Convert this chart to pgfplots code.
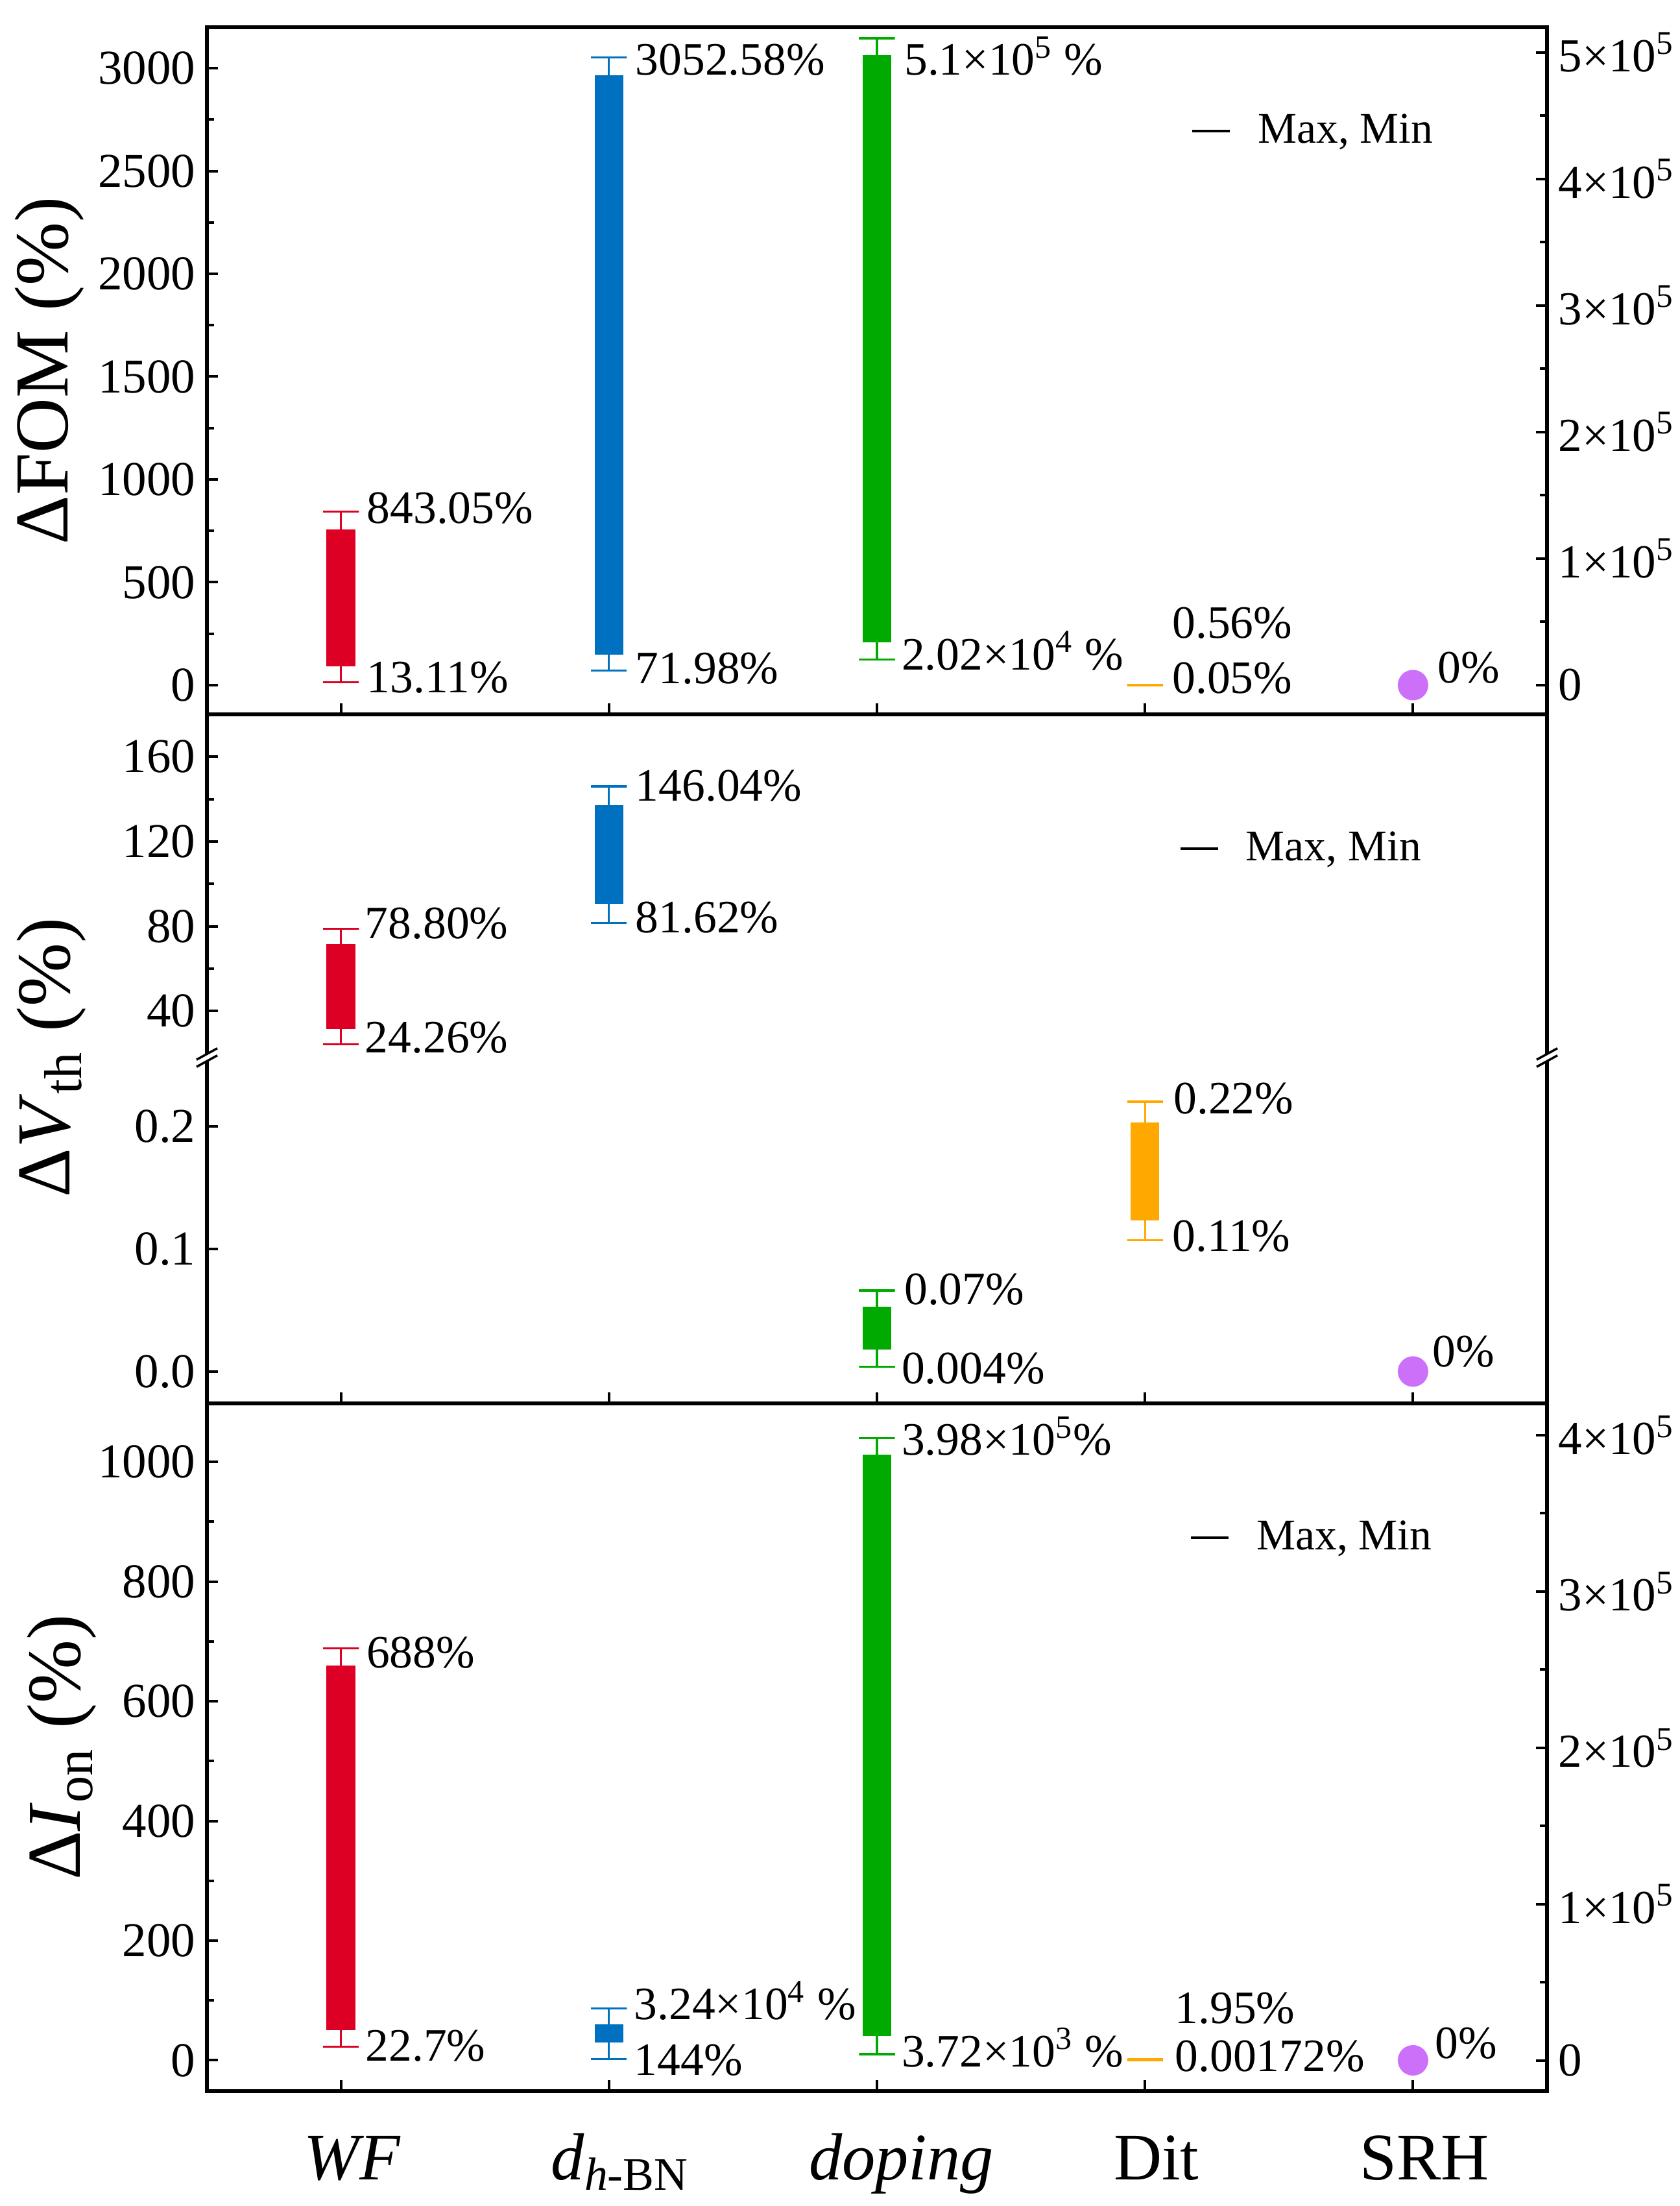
\documentclass[border=0pt]{standalone}
\usepackage{fontspec}
\setmainfont{Liberation Serif}
\usepackage{pgfplots}
\pgfplotsset{compat=1.18}

\definecolor{cred}{RGB}{222,0,36}
\definecolor{cblue}{RGB}{0,112,192}
\definecolor{cgreen}{RGB}{0,170,0}
\definecolor{corange}{RGB}{255,168,0}
\definecolor{cpurple}{RGB}{204,112,250}

\tikzset{lab/.style={anchor=west, inner sep=0pt, font=\fontsize{14.3}{17}\selectfont,
    text height=0.68em, text depth=0pt}}

\pgfplotsset{
  base/.style={
    scale only axis, width=413.2pt, anchor=south west,
    xmin=-0.5, xmax=4.5, clip=false,
    tick align=inside,
    axis line style={line width=1.1pt},
    major tick style={line width=0.8pt, black},
    minor tick style={line width=0.8pt, black},
    major tick length=3.4pt, minor tick length=2.2pt,
    tick label style={font=\fontsize{15}{18}\selectfont},
    /pgf/number format/assume math mode=true,
    /pgf/number format/1000 sep={},
    xtick={0,1,2,3,4}, xtick pos=bottom, ytick pos=left,
    xticklabels={},
    ylabel style={font=\fontsize{23.5}{28}\selectfont, anchor=base},
  },
  rightax/.style={
    scale only axis, width=413.2pt, anchor=south west,
    xmin=-0.5, xmax=4.5, clip=false,
    hide x axis, ytick pos=right,
    axis line style={line width=1.1pt},
    tick align=inside,
    major tick style={line width=0.8pt, black},
    minor tick style={line width=0.8pt, black},
    major tick length=3.4pt, minor tick length=2.2pt,
    tick label style={font=\fontsize{14.6}{17}\selectfont},
    scaled y ticks=false, minor y tick num=1,
  },
  mylegend/.style={
    legend style={at={(rel axis cs:#1)}, anchor=west, draw=none, fill=none,
      inner sep=0pt, font=\fontsize{13.5}{16}\selectfont},
    legend cell align=left,
    legend image code/.code={\draw[black,line width=0.8pt] (0pt,0pt) -- (11.6pt,0pt); \path (18pt,0pt);},
  },
  wh/.style={draw=#1, line width=0.65pt, mark=none},
  bxf/.style={fill=#1, draw=#1, line width=0.6pt, mark=none},
}

\begin{document}
\begin{tikzpicture}

% ---------------- Top panel: Delta FOM ----------------
\begin{axis}[base, at={(63.8pt,459.8pt)}, height=211.8pt,
  ymin=-142, ymax=3199,
  ytick={0,500,1000,1500,2000,2500,3000}, minor y tick num=1,
  ylabel={ΔFOM (\%)},
  ylabel style={at={(axis description cs:-0.1036,0.5)}},
  mylegend={0.734,0.849}]
\addlegendimage{black}
\addlegendentry{Max, Min}
% WF: min 13.11, max 843.05
\addplot[wh=cred] coordinates {(-0.067,843.05) (0.067,843.05) (0,843.05) (0,13.11) (-0.067,13.11) (0.067,13.11)};
\addplot[bxf=cred] coordinates {(-0.05,96) (0.05,96) (0.05,751) (-0.05,751)} -- cycle;
% d_hBN: min 71.98, max 3052.58
\addplot[wh=cblue] coordinates {(0.933,3052.58) (1.067,3052.58) (1,3052.58) (1,71.98) (0.933,71.98) (1.067,71.98)};
\addplot[bxf=cblue] coordinates {(0.95,153) (1.05,153) (1.05,2962) (0.95,2962)} -- cycle;
% Dit: min 0.05, max 0.56
\addplot[wh=corange] coordinates {(2.933,0.56) (3.067,0.56) (3,0.56) (3,0.05) (2.933,0.05) (3.067,0.05)};
% SRH
\addplot[only marks, mark=*, mark size=4.5pt, color=cpurple] coordinates {(4,0)};
\node[lab] at (axis cs:0.095,842) {843.05\%};
\node[lab] at (axis cs:0.095,16) {13.11\%};
\node[lab] at (axis cs:1.097,3022) {3052.58\%};
\node[lab] at (axis cs:1.097,60) {71.98\%};
\node[lab] at (axis cs:2.10,3020) {5.1×10\textsuperscript{5} \%};
\node[lab] at (axis cs:2.09,129) {2.02×10\textsuperscript{4} \%};
\node[lab] at (axis cs:3.10,281) {0.56\%};
\node[lab] at (axis cs:3.10,13) {0.05\%};
\node[lab] at (axis cs:4.09,66) {0\%};
\end{axis}
% right axis, values in units of 10^5 %
\begin{axis}[rightax, at={(63.8pt,459.8pt)}, height=211.8pt,
  ymin=-0.232, ymax=5.198,
  ytick={0,1,2,3,4,5},
  yticklabels={0,{1×10\textsuperscript{5}},{2×10\textsuperscript{5}},{3×10\textsuperscript{5}},{4×10\textsuperscript{5}},{5×10\textsuperscript{5}}}]
% doping: min 0.202e5, max 5.11e5
\addplot[wh=cgreen] coordinates {(1.933,5.11) (2.067,5.11) (2,5.11) (2,0.202) (1.933,0.202) (2.067,0.202)};
\addplot[bxf=cgreen] coordinates {(1.95,0.344) (2.05,0.344) (2.05,4.97) (1.95,4.97)} -- cycle;
\end{axis}

% ---------------- Middle panel (upper part) ----------------
\begin{axis}[base, at={(63.8pt,354pt)}, height=105.8pt,
  ymin=18, ymax=180,
  separate axis lines, x axis line style={draw=none},
  xtick=\empty,
  ytick={40,80,120,160}, minor ytick={60,100,140},
  ylabel={Δ\textit{V}\textsubscript{th} (\%)},
  ylabel style={at={(axis description cs:-0.1026,0)}},
  mylegend={0.725,0.609}]
\addlegendimage{black}
\addlegendentry{Max, Min}
\addplot[wh=cred] coordinates {(-0.067,78.80) (0.067,78.80) (0,78.80) (0,24.26) (-0.067,24.26) (0.067,24.26)};
\addplot[bxf=cred] coordinates {(-0.05,31.8) (0.05,31.8) (0.05,71.1) (-0.05,71.1)} -- cycle;
\addplot[wh=cblue] coordinates {(0.933,146.04) (1.067,146.04) (1,146.04) (1,81.62) (0.933,81.62) (1.067,81.62)};
\addplot[bxf=cblue] coordinates {(0.95,91) (1.05,91) (1.05,136.8) (0.95,136.8)} -- cycle;
\node[lab] at (axis cs:0.088,79.4) {78.80\%};
\node[lab] at (axis cs:0.088,25.5) {24.26\%};
\node[lab] at (axis cs:1.097,144.4) {146.04\%};
\node[lab] at (axis cs:1.097,82) {81.62\%};
\end{axis}

% ---------------- Middle panel (lower part) ----------------
\begin{axis}[base, at={(63.8pt,247.4pt)}, height=106.6pt,
  ymin=-0.026, ymax=0.256,
  separate axis lines, x axis line style={draw=none},
  ytick={0,0.1,0.2},
  yticklabel style={/pgf/number format/fixed, /pgf/number format/fixed zerofill, /pgf/number format/precision=1}]
\addplot[wh=cgreen] coordinates {(1.933,0.066) (2.067,0.066) (2,0.066) (2,0.004) (1.933,0.004) (2.067,0.004)};
\addplot[bxf=cgreen] coordinates {(1.95,0.0185) (2.05,0.0185) (2.05,0.052) (1.95,0.052)} -- cycle;
\addplot[wh=corange] coordinates {(2.933,0.22) (3.067,0.22) (3,0.22) (3,0.107) (2.933,0.107) (3.067,0.107)};
\addplot[bxf=corange] coordinates {(2.95,0.124) (3.05,0.124) (3.05,0.2024) (2.95,0.2024)} -- cycle;
\addplot[only marks, mark=*, mark size=4.5pt, color=cpurple] coordinates {(4,0)};
\node[lab] at (axis cs:3.105,0.219) {0.22\%};
\node[lab] at (axis cs:3.10,0.107) {0.11\%};
\node[lab] at (axis cs:2.10,0.0635) {0.07\%};
\node[lab] at (axis cs:2.09,-0.001) {0.004\%};
\node[lab] at (axis cs:4.07,0.0127) {0\%};
\end{axis}

% ---------------- Bottom panel: Delta I_on ----------------
\begin{axis}[base, at={(63.8pt,35.4pt)}, height=212pt,
  ymin=-51.5, ymax=1097.6,
  ytick={0,200,400,600,800,1000}, minor y tick num=1,
  xticklabels={\textit{WF}, {\textit{d}\textsubscript{\textit{h}-BN}}, {\hspace*{8pt}\textit{doping}}, Dit, SRH},
  xticklabel style={font=\fontsize{20.5}{24}\selectfont, text height=0.68em, text depth=0.25em, yshift=-17pt, xshift=3.5pt},
  ylabel={Δ\textit{I}\textsubscript{on} (\%)},
  ylabel style={at={(axis description cs:-0.0944,0.5)}},
  mylegend={0.733,0.805}]
\addlegendimage{black}
\addlegendentry{Max, Min}
\addplot[wh=cred] coordinates {(-0.067,688) (0.067,688) (0,688) (0,22.7) (-0.067,22.7) (0.067,22.7)};
\addplot[bxf=cred] coordinates {(-0.05,51.5) (0.05,51.5) (0.05,658) (-0.05,658)} -- cycle;
\addplot[wh=cblue] coordinates {(0.933,87) (1.067,87) (1,87) (1,2) (0.933,2) (1.067,2)};
\addplot[bxf=cblue] coordinates {(0.95,31) (1.05,31) (1.05,58.5) (0.95,58.5)} -- cycle;
\addplot[wh=corange] coordinates {(2.933,1.95) (3.067,1.95) (3,1.95) (3,0.00172) (2.933,0.00172) (3.067,0.00172)};
\addplot[only marks, mark=*, mark size=4.5pt, color=cpurple] coordinates {(4,0)};
\node[lab] at (axis cs:0.093,674) {688\%};
\node[lab] at (axis cs:0.09,17) {22.7\%};
\node[lab] at (axis cs:1.092,87) {3.24×10\textsuperscript{4} \%};
\node[lab] at (axis cs:1.092,-7) {144\%};
\node[lab] at (axis cs:2.09,1030) {3.98×10\textsuperscript{5}\%};
\node[lab] at (axis cs:2.09,8) {3.72×10\textsuperscript{3} \%};
\node[lab] at (axis cs:3.11,80) {1.95\%};
\node[lab] at (axis cs:3.11,0.5) {0.00172\%};
\node[lab] at (axis cs:4.08,22) {0\%};
\end{axis}
% right axis, values in units of 10^5 %
\begin{axis}[rightax, at={(63.8pt,35.4pt)}, height=212pt,
  ymin=-0.197, ymax=4.203,
  ytick={0,1,2,3,4},
  yticklabels={0,{1×10\textsuperscript{5}},{2×10\textsuperscript{5}},{3×10\textsuperscript{5}},{4×10\textsuperscript{5}}}]
\addplot[wh=cgreen] coordinates {(1.933,3.98) (2.067,3.98) (2,3.98) (2,0.04) (1.933,0.04) (2.067,0.04)};
\addplot[bxf=cgreen] coordinates {(1.95,0.162) (2.05,0.162) (2.05,3.87) (1.95,3.87)} -- cycle;
\end{axis}

% break marks on the middle panel
\foreach \xx in {63.8pt,477pt}{
  \fill[white] ([xshift=-1.6pt,yshift=-1.1pt]\xx,354pt) rectangle ([xshift=1.6pt,yshift=1.1pt]\xx,354pt);
  \draw[line width=0.7pt] ([xshift=-3.2pt,yshift=-2.85pt]\xx,354pt) -- ([xshift=3.2pt,yshift=0.65pt]\xx,354pt);
  \draw[line width=0.7pt] ([xshift=-3.2pt,yshift=-0.65pt]\xx,354pt) -- ([xshift=3.2pt,yshift=2.85pt]\xx,354pt);
}

\pgfresetboundingbox
\useasboundingbox (0,0) rectangle (518pt,680pt);
\end{tikzpicture}
\end{document}
